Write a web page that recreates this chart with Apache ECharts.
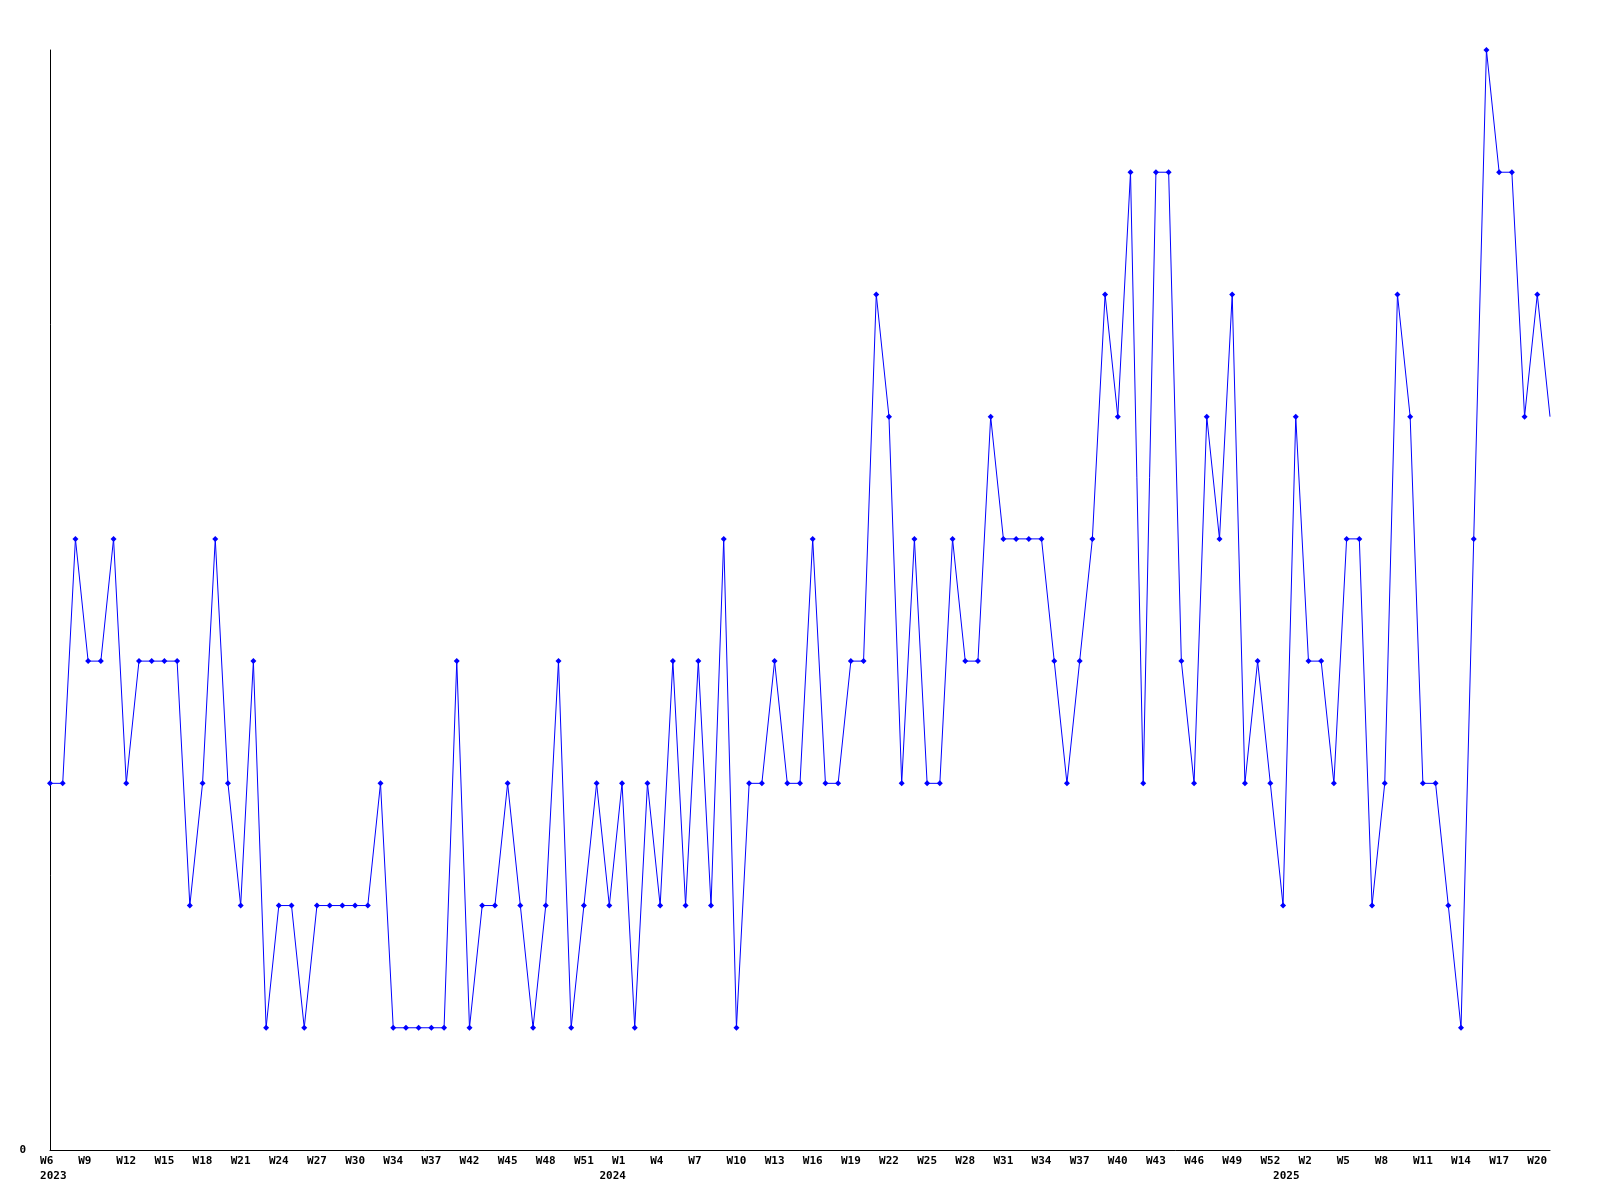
<!DOCTYPE html>
<html>
<head>
<meta charset="utf-8">
<script src="https://cdn.jsdelivr.net/npm/echarts@6/dist/echarts.min.js"></script>
<style>
html,body{margin:0;padding:0;background:#ffffff;}
#chart{width:1600px;height:1200px;}
</style>
</head>
<body>
<div id="chart"></div>
<script>
// Week categories (year-week)
const weeks2023 = ["W6","W7","W8","W9","W10","W11","W12","W13","W14","W15","W16","W17","W18","W19","W20","W21","W22","W23","W24","W25","W26","W27","W28","W29","W30","W31","W32","W34","W35","W36","W37","W40","W41","W42","W43","W44","W45","W46","W47","W48","W49","W50","W51","W52"];
const weeks2024 = ["W0","W1","W2","W3","W4","W5","W6","W7","W8","W9","W10","W11","W12","W13","W14","W15","W16","W17","W18","W19","W20","W21","W22","W23","W24","W25","W26","W27","W28","W29","W30","W31","W32","W33","W34","W35","W36","W37","W38","W39","W40","W41","W42","W43","W44","W45","W46","W47","W48","W49","W50","W51","W52"];
const weeks2025 = ["W0","W1","W2","W3","W4","W5","W6","W7","W8","W9","W10","W11","W12","W13","W14","W15","W16","W17","W18","W19","W20","W21"];
const years = ["2023","2024","2025"];

// Weekly values
const values = [
  3,3,5,4,4,5,3,4,4,4,
  4,2,3,5,3,2,4,1,2,2,
  1,2,2,2,2,2,3,1,1,1,
  1,1,4,1,2,2,3,2,1,2,
  4,1,2,3,2,3,1,3,2,4,
  2,4,2,5,1,3,3,4,3,3,
  5,3,3,4,4,7,6,3,5,3,
  3,5,4,4,6,5,5,5,5,4,
  3,4,5,7,6,8,3,8,8,4,
  3,6,5,7,3,4,3,2,6,4,
  4,3,5,5,2,3,7,6,3,3,
  2,1,5,9,8,8,6,7,6
];
const yTickLabels = ["0"];

const weekGroups = [weeks2023, weeks2024, weeks2025];
const categories = [];
const yearStart = [];
weekGroups.forEach((g, yi) => {
  yearStart.push(categories.length);
  g.forEach(w => categories.push(years[yi] + "-" + w));
});

// the final (current, partial) week is drawn without a marker
const seriesData = values.map((v, i) =>
  i === values.length - 1 ? {value: v, symbol: "none"} : v);

const font = {fontFamily: "DejaVu Sans Mono", fontWeight: "bold", fontSize: 11, color: "#000000"};

const chart = echarts.init(document.getElementById("chart"), null, {renderer: "canvas"});
chart.setOption({
  animation: false,
  backgroundColor: "#ffffff",
  grid: {left: 50, right: 50, top: 50, bottom: 50, containLabel: false},
  xAxis: [
    {
      type: "category",
      data: categories,
      boundaryGap: false,
      axisLine: {show: true, lineStyle: {color: "#000000", width: 1}},
      axisTick: {show: false},
      splitLine: {show: false},
      axisLabel: Object.assign({
        interval: 2,
        margin: 6,
        formatter: v => { const w = v.split("-")[1]; return w.length < 3 ? w + " " : w; }
      }, font)
    },
    {
      type: "category",
      data: categories,
      boundaryGap: false,
      position: "bottom",
      offset: 15,
      axisLine: {show: false},
      axisTick: {show: false},
      splitLine: {show: false},
      axisLabel: Object.assign({
        interval: (i) => yearStart.indexOf(i) >= 0,
        margin: 6,
        formatter: v => " " + v.split("-")[0]
      }, font)
    }
  ],
  yAxis: {
    type: "value",
    min: 0,
    max: 9,
    interval: 9,
    axisLine: {show: true, lineStyle: {color: "#000000", width: 1}},
    axisTick: {show: false},
    splitLine: {show: false},
    axisLabel: Object.assign({
      margin: 24,
      formatter: v => (yTickLabels.indexOf(String(v)) >= 0 ? String(v) : "")
    }, font)
  },
  series: [{
    type: "line",
    data: seriesData,
    xAxisIndex: 0,
    symbol: "diamond",
    symbolSize: 6,
    showAllSymbol: true,
    lineStyle: {color: "#0000ff", width: 1},
    itemStyle: {color: "#0000ff"},
    emphasis: {disabled: true}
  }]
});
</script>
</body>
</html>
